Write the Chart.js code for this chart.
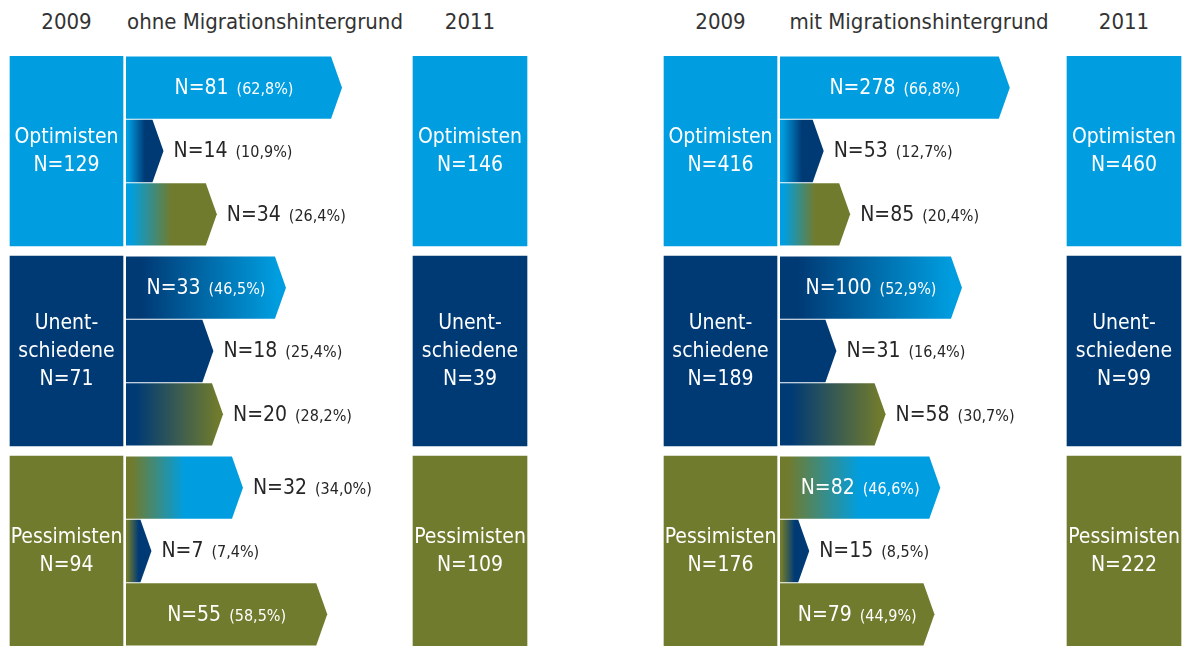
<!DOCTYPE html>
<html lang="de">
<head>
<meta charset="utf-8">
<title>Optimisten, Unentschiedene und Pessimisten 2009 und 2011</title>
<script src="https://cdn.jsdelivr.net/npm/chart.js@4/dist/chart.umd.min.js"></script>
<style>
  html, body { margin: 0; background: #fff; }
  #page {
    position: relative; width: 1189px; height: 646px; overflow: hidden;
    font-family: "DejaVu Sans Condensed", "DejaVu Sans", sans-serif;
  }
  .panel { position: absolute; top: 0; width: 535px; height: 646px; }
  .head {
    position: absolute; top: 9px; font-size: 22px; line-height: 26px;
    color: #333; white-space: nowrap; transform: translateX(-50%);
  }
  canvas { position: absolute; left: 0; top: 0; }
</style>
</head>
<body>
<div id="page"></div>
<script>
// categories (2009 groups, 2011 targets use the same order)
const categories = ["Optimisten", "Unentschiedene", "Pessimisten"];
const categoryLines = [["Optimisten"], ["Unent-", "schiedene"], ["Pessimisten"]];
const panelTitles = ["ohne Migrationshintergrund", "mit Migrationshintergrund"];
const years = ["2009", "2011"];

// ohne Migrationshintergrund
const ohneTotal2009 = [129, 71, 94];
const ohneTotal2011 = [146, 39, 109];
const ohneCounts = [[81, 14, 34], [33, 18, 20], [32, 7, 55]];
const ohneShares = [[62.8, 10.9, 26.4], [46.5, 25.4, 28.2], [34.0, 7.4, 58.5]];

// mit Migrationshintergrund
const mitTotal2009 = [416, 189, 176];
const mitTotal2011 = [460, 99, 222];
const mitCounts = [[278, 53, 85], [100, 31, 58], [82, 15, 79]];
const mitShares = [[66.8, 12.7, 20.4], [52.9, 16.4, 30.7], [46.6, 8.5, 44.9]];

// layout / style
const W = 535, H = 646;
const PANEL_LEFT = [0, 654];
const ARROW_X = 126;        // pixel of 0 %
const PX_PER_PCT = 3.44;
const BOX_2009 = [10, 123];
const BOX_2011 = [413, 527];
const TOP = 56;
const ROW = 63.33;
const GROUP_GAP = 10;
const HEAD = 11;
const COLORS = ["#009ee0", "#003a75", "#717b2d"];
const GRADIENT_STOPS = [[0.05, 0.5], [0.1, 0.95], [0.05, 0.5]];
const FONT = '"DejaVu Sans Condensed", "DejaVu Sans", sans-serif';

const groupPitch = (3 * ROW + GROUP_GAP) / ROW;
const rowPos = (g, r) => g * groupPitch + r;
const yMin = -0.5, yMax = 2 * groupPitch + 2.5;
const xMin = -ARROW_X / PX_PER_PCT, xMax = (W - ARROW_X) / PX_PER_PCT;
const toPct = px => (px - ARROW_X) / PX_PER_PCT;
const fmtPct = v => "(" + v.toFixed(1).replace(".", ",") + "%)";

function drawArrow(ctx, el, g, r, count, share) {
  const { x, y, base, height } = el.getProps(["x", "y", "base", "height"], true);
  const top = y - height / 2, bottom = y + height / 2;
  const head = Math.min(HEAD, x - base);
  ctx.beginPath();
  ctx.moveTo(base, top);
  ctx.lineTo(x - head, top);
  ctx.lineTo(x, y);
  ctx.lineTo(x - head, bottom);
  ctx.lineTo(base, bottom);
  ctx.closePath();
  if (g === r) {
    ctx.fillStyle = COLORS[g];
  } else {
    const grad = ctx.createLinearGradient(base, 0, x, 0);
    const [s0, s1] = GRADIENT_STOPS[g];
    grad.addColorStop(0, COLORS[g]);
    grad.addColorStop(s0, COLORS[g]);
    grad.addColorStop(s1, COLORS[r]);
    grad.addColorStop(1, COLORS[r]);
    ctx.fillStyle = grad;
  }
  ctx.fill();

  // label
  const main = "N=" + count;
  const pct = fmtPct(share);
  ctx.font = "21px " + FONT;
  const w1 = ctx.measureText(main).width;
  ctx.font = "16px " + FONT;
  const w2 = ctx.measureText(pct).width;
  const gap = 8;
  const total = w1 + gap + w2;
  const inside = total + 20 < x - head - base;
  const sx = inside ? (base + x) / 2 - total / 2 : x + 10;
  ctx.fillStyle = inside ? "#fff" : "#262626";
  ctx.textAlign = "left";
  ctx.textBaseline = "alphabetic";
  ctx.font = "21px " + FONT;
  ctx.fillText(main, sx, y + 6.5);
  ctx.font = "16px " + FONT;
  ctx.fillText(pct, sx + w1 + gap, y + 6.5);
}

function drawBoxText(ctx, el, g, total) {
  const { x, y, base } = el.getProps(["x", "y", "base"], true);
  const lines = categoryLines[g].concat(["N=" + total]);
  const cx = (x + base) / 2;
  ctx.fillStyle = "#fff";
  ctx.textAlign = "center";
  ctx.textBaseline = "alphabetic";
  ctx.font = "21px " + FONT;
  lines.forEach((t, i) => {
    ctx.fillText(t, cx, y + (i - (lines.length - 1) / 2) * 28 + 6.5);
  });
}

const flowPlugin = {
  id: "flow",
  afterDatasetsDraw(chart) {
    const ctx = chart.ctx;
    ctx.save();
    chart.data.datasets.forEach((ds, di) => {
      const meta = chart.getDatasetMeta(di);
      meta.data.forEach((el, i) => {
        if (ds.kind === "arrow") {
          const g = Math.floor(i / 3), r = i % 3;
          drawArrow(ctx, el, g, r, ds.counts[i], ds.shares[i]);
        } else {
          drawBoxText(ctx, el, i, ds.totals[i]);
        }
      });
    });
    ctx.restore();
  }
};

function makePanel(p, total2009, total2011, counts, shares) {
  const panel = document.createElement("div");
  panel.className = "panel";
  panel.style.left = PANEL_LEFT[p] + "px";
  const heads = [
    [years[0], (BOX_2009[0] + BOX_2009[1]) / 2],
    [panelTitles[p], ARROW_X + 139],
    [years[1], (BOX_2011[0] + BOX_2011[1]) / 2]
  ];
  heads.forEach(([t, cx]) => {
    const d = document.createElement("div");
    d.className = "head";
    d.textContent = t;
    d.style.left = cx + "px";
    panel.appendChild(d);
  });
  const canvas = document.createElement("canvas");
  canvas.width = W;
  canvas.height = H;
  panel.appendChild(canvas);
  document.getElementById("page").appendChild(panel);

  const arrowData = [], flatCounts = [], flatShares = [];
  categories.forEach((c, g) => {
    categories.forEach((c2, r) => {
      arrowData.push({ x: [0, shares[g][r]], y: rowPos(g, r) });
      flatCounts.push(counts[g][r]);
      flatShares.push(shares[g][r]);
    });
  });

  new Chart(canvas.getContext("2d"), {
    type: "bar",
    data: {
      datasets: [
        {
          label: years[0],
          kind: "box",
          totals: total2009,
          data: categories.map((c, g) => ({ x: [toPct(BOX_2009[0]), toPct(BOX_2009[1])], y: rowPos(g, 1) })),
          backgroundColor: COLORS,
          barThickness: 3 * ROW,
          grouped: false
        },
        {
          label: panelTitles[p],
          kind: "arrow",
          counts: flatCounts,
          shares: flatShares,
          data: arrowData,
          backgroundColor: "rgba(0,0,0,0)",
          barThickness: ROW - 1,
          grouped: false
        },
        {
          label: years[1],
          kind: "box",
          totals: total2011,
          data: categories.map((c, g) => ({ x: [toPct(BOX_2011[0]), toPct(BOX_2011[1])], y: rowPos(g, 1) })),
          backgroundColor: COLORS,
          barThickness: 3 * ROW,
          grouped: false
        }
      ]
    },
    options: {
      indexAxis: "y",
      responsive: false,
      animation: false,
      events: [],
      layout: { padding: { top: TOP, bottom: H - TOP - (yMax - yMin) * ROW, left: 0, right: 0 } },
      scales: {
        x: { type: "linear", min: xMin, max: xMax, display: false },
        y: { type: "linear", min: yMin, max: yMax, reverse: true, offset: false, display: false }
      },
      plugins: { legend: { display: false }, tooltip: { enabled: false } }
    },
    plugins: [flowPlugin]
  });
}

makePanel(0, ohneTotal2009, ohneTotal2011, ohneCounts, ohneShares);
makePanel(1, mitTotal2009, mitTotal2011, mitCounts, mitShares);
</script>
</body>
</html>
